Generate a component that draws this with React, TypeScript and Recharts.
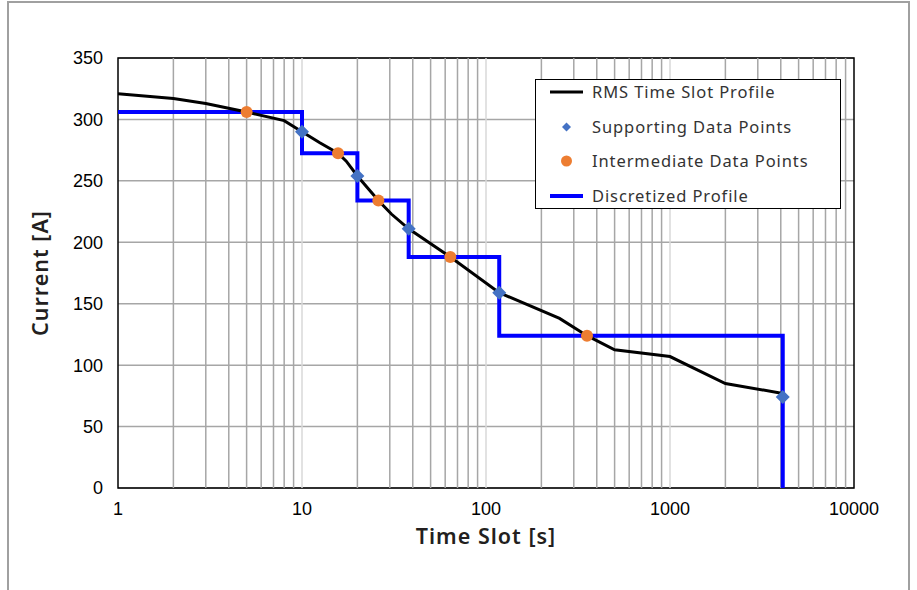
import React from 'react';
import {
  ComposedChart,
  Line,
  Scatter,
  XAxis,
  YAxis,
  CartesianGrid,
  ReferenceLine,
  ReferenceArea,
  Legend,
  Label,
} from 'recharts';

// ---- data ----
const rmsTime = [1, 2, 3, 5, 8, 10, 12.5, 15.7, 17.4, 20, 26, 30.6, 38, 64, 118, 251, 354, 500, 1000, 2000, 4100];
const rmsCurrent = [321, 317, 313, 306, 299, 290, 281, 272.5, 266, 254, 234, 223, 211, 188, 159, 138, 124, 112.5, 107, 85, 77];

const supportTime = [10, 20, 38, 118, 4100];
const supportCurrent = [290, 254, 211, 159, 74];

const interTime = [5, 15.7, 26, 64, 354];
const interCurrent = [306, 272.5, 234, 188, 124];

const discreteTime = [1, 10, 20, 38, 118, 4100];
const discreteCurrent = [306, 272.5, 234, 188, 124, 0];

const xTicks = [1, 10, 100, 1000, 10000];
const yTicks = [0, 50, 100, 150, 200, 250, 300, 350];
const minorGridX = [2, 3, 4, 5, 6, 7, 8, 9, 20, 30, 40, 50, 60, 70, 80, 90, 200, 300, 400, 500, 600, 700, 800, 900, 2000, 3000, 4000, 5000, 6000, 7000, 8000, 9000];
const majorGridX = [10, 100, 1000];

const seriesNames = ['RMS Time Slot Profile', 'Supporting Data Points', 'Intermediate Data Points', 'Discretized Profile'];

const rmsData = rmsTime.map((t, i) => ({ t, v: rmsCurrent[i] }));
const supportData = supportTime.map((t, i) => ({ t, v: supportCurrent[i] }));
const interData = interTime.map((t, i) => ({ t, v: interCurrent[i] }));
const discreteData = discreteTime.map((t, i) => ({ t, v: discreteCurrent[i] }));

const BLACK = '#000000';
const DIAMOND = '#4472C4';
const ORANGE = '#ED7D31';
const BLUE = '#0000FF';
const GRID = '#a6a6a6';
const GRID_MAJOR = '#d9d9d9';
const TITLE_FONT = '"Noto Sans", sans-serif';
const TICK_FONT = '"Liberation Sans", Arial, sans-serif';

const DiamondShape = (props: any) => {
  const { cx, cy } = props;
  if (cx == null || cy == null) return null;
  const r = 7;
  return <polygon points={`${cx},${cy - r} ${cx + r},${cy} ${cx},${cy + r} ${cx - r},${cy}`} fill={DIAMOND} />;
};

const CircleShape = (props: any) => {
  const { cx, cy } = props;
  if (cx == null || cy == null) return null;
  return <circle cx={cx} cy={cy} r={6} fill={ORANGE} />;
};

const LegendMarker = ({ idx }: { idx: number }) => {
  if (idx === 0) return <svg width={33} height={20}><line x1={0} y1={10} x2={33} y2={10} stroke={BLACK} strokeWidth={3} /></svg>;
  if (idx === 3) return <svg width={33} height={20}><line x1={0} y1={10} x2={33} y2={10} stroke={BLUE} strokeWidth={4} /></svg>;
  if (idx === 1)
    return (
      <svg width={33} height={20}>
        <polygon points="16.5,5.5 21,10 16.5,14.5 12,10" fill={DIAMOND} />
      </svg>
    );
  return (
    <svg width={33} height={20}>
      <circle cx={16.5} cy={10} r={5.5} fill={ORANGE} />
    </svg>
  );
};

const renderLegend = () => (
  <div
    style={{
      position: 'relative',
      width: 306,
      height: 130,
      border: '1.5px solid #000',
      background: '#fff',
      boxSizing: 'border-box',
      fontFamily: TITLE_FONT,
    }}
  >
    {seriesNames.map((name, i) => (
      <div
        key={name}
        style={{
          position: 'absolute',
          left: 14,
          top: 2 + i * 34.7,
          height: 20,
          display: 'flex',
          alignItems: 'center',
          whiteSpace: 'nowrap',
        }}
      >
        <LegendMarker idx={i} />
        <span style={{ marginLeft: 9, fontSize: 16.5, letterSpacing: 0.9, color: '#333', lineHeight: '20px' }}>{name}</span>
      </div>
    ))}
  </div>
);

export default function App() {
  return (
    <div style={{ position: 'absolute', left: 0, top: 0, width: 917, height: 590, overflow: 'hidden', background: '#fff' }}>
      <div
        style={{
          position: 'absolute',
          left: 7,
          top: 1,
          width: 903,
          height: 700,
          border: '2px solid #a0a0a0',
          boxSizing: 'border-box',
        }}
      />
      <div style={{ position: 'absolute', left: 0, top: 0 }}>
        <ComposedChart width={917} height={590} margin={{ top: 58, right: 63, left: 18, bottom: 72 }}>
          <CartesianGrid vertical={false} stroke={GRID} strokeWidth={1.5} />
          {minorGridX.map((v) => (
            <ReferenceLine key={'m' + v} x={v} stroke={GRID} strokeWidth={1.5} />
          ))}
          {majorGridX.map((v) => (
            <ReferenceLine key={'M' + v} x={v} stroke={GRID_MAJOR} strokeWidth={1.5} />
          ))}
          <XAxis
            type="number"
            dataKey="t"
            scale="log"
            domain={[1, 10000]}
            ticks={xTicks}
            allowDataOverflow
            axisLine={false}
            tickLine={false}
            tickSize={0}
            tickMargin={14}
            height={30}
            tick={{ fill: '#000', fontSize: 18, fontFamily: TICK_FONT }}
          >
            <Label
              value="Time Slot [s]"
              position="bottom"
              offset={11}
              style={{ fill: '#231f20', fontSize: 21.5, fontWeight: 600, letterSpacing: 1, fontFamily: TITLE_FONT }}
            />
          </XAxis>
          <YAxis
            type="number"
            dataKey="v"
            domain={[0, 350]}
            ticks={yTicks}
            axisLine={false}
            tickLine={false}
            tickSize={0}
            tickMargin={15}
            width={100}
            tick={{ fill: '#000', fontSize: 18, fontFamily: TICK_FONT }}
          >
            <Label
              value="Current [A]"
              angle={-90}
              position="insideLeft"
              offset={22}
              style={{ textAnchor: 'middle', fill: '#231f20', fontSize: 21.5, fontWeight: 600, letterSpacing: 1, fontFamily: TITLE_FONT }}
            />
          </YAxis>
          <ReferenceArea x1={1} x2={10000} y1={0} y2={350} fill="none" stroke="#000" strokeWidth={1.5} ifOverflow="visible" />
          <Line
            data={discreteData}
            dataKey="v"
            type="stepAfter"
            stroke={BLUE}
            strokeWidth={4}
            dot={false}
            isAnimationActive={false}
            name={seriesNames[3]}
          />
          <Line
            data={rmsData}
            dataKey="v"
            type="linear"
            stroke={BLACK}
            strokeWidth={3}
            dot={false}
            isAnimationActive={false}
            name={seriesNames[0]}
          />
          <Scatter data={supportData} dataKey="v" shape={DiamondShape} isAnimationActive={false} name={seriesNames[1]} />
          <Scatter data={interData} dataKey="v" shape={CircleShape} isAnimationActive={false} name={seriesNames[2]} />
          <Legend
            layout="horizontal"
            verticalAlign="middle"
            align="center"
            content={renderLegend}
            wrapperStyle={{ left: 535, top: 79, width: 306, height: 130 }}
          />
        </ComposedChart>
      </div>
    </div>
  );
}
